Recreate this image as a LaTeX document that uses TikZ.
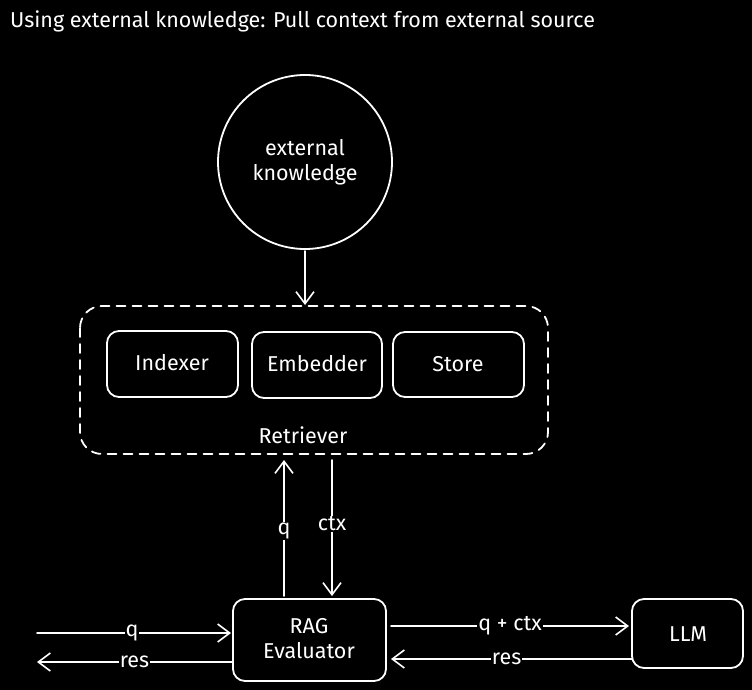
\documentclass[tikz,border=0pt]{standalone}
\usepackage{fontspec}
\setmainfont{Fira Sans}
\usetikzlibrary{arrows.meta}
\begin{document}
\begin{tikzpicture}[x=1pt,y=-1pt,
  every node/.style={text=white,font=\fontsize{21.5}{25}\selectfont},
  line/.style={draw=white,line width=1.8pt,line cap=round},
  box/.style={line,rounded corners=12pt},
  arr/.style={line,-{Straight Barb[length=12pt,width=18pt,line width=1.6pt]}},
  lbl/.style={fill=black,inner sep=1pt}]
\fill[black] (0,0) rectangle (752,690);
\useasboundingbox (0,0) rectangle (752,690);
\node[anchor=west,inner sep=0] (title) at (10,21) {Using external knowledge: Pull context from external source};
\draw[line] (305,162) circle (87);
\coordinate (cb) at (305,251);
\node[align=center] (ek) at (305,162) {external\\knowledge};
\draw[line,dashed,dash pattern=on 9pt off 7pt,rounded corners=22pt] (80,306) rectangle (548,454);
\coordinate (rtop) at (305,305);
\node (ret) at (303,435) {Retriever};
\draw[box] (107,331) rectangle (238,397);
\node (idx) at (172,363) {Indexer};
\draw[box] (252,332) rectangle (382,398);
\node (emb) at (317,364) {Embedder};
\draw[box] (393,332) rectangle (524,397);
\node (sto) at (458,364) {Store};
\draw[box] (233,599) rectangle (386,681);
\node[align=center] (rag) at (309,639) {RAG\\Evaluator};
\draw[box] (632,599) rectangle (743,668);
\node (llm) at (688,634) {LLM};
\coordinate (rq1) at (284,596);
\coordinate (rq2) at (284,460);
\coordinate (rc1) at (332,460);
\coordinate (rc2) at (332,596);
\coordinate (lq) at (37,633);
\coordinate (lqe) at (231,633);
\coordinate (lr) at (232,662);
\coordinate (lre) at (37,662);
\coordinate (qc) at (391,626);
\coordinate (qce) at (629,626);
\coordinate (rr) at (632,659);
\coordinate (rre) at (391,659);
\draw[arr] (cb) -- (rtop);
\draw[arr] (rq1) -- node[lbl,pos=0.48] {q} (rq2);
\draw[arr] (rc1) -- node[lbl,pos=0.47] {ctx} (rc2);
\draw[arr] (lq) -- node[lbl,pos=0.49] {q} (lqe);
\draw[arr] (lr) -- node[lbl,pos=0.5] {res} (lre);
\draw[arr] (qc) -- node[lbl,pos=0.5] {q + ctx} (qce);
\draw[arr] (rr) -- node[lbl,pos=0.52] {res} (rre);
\end{tikzpicture}
\end{document}
